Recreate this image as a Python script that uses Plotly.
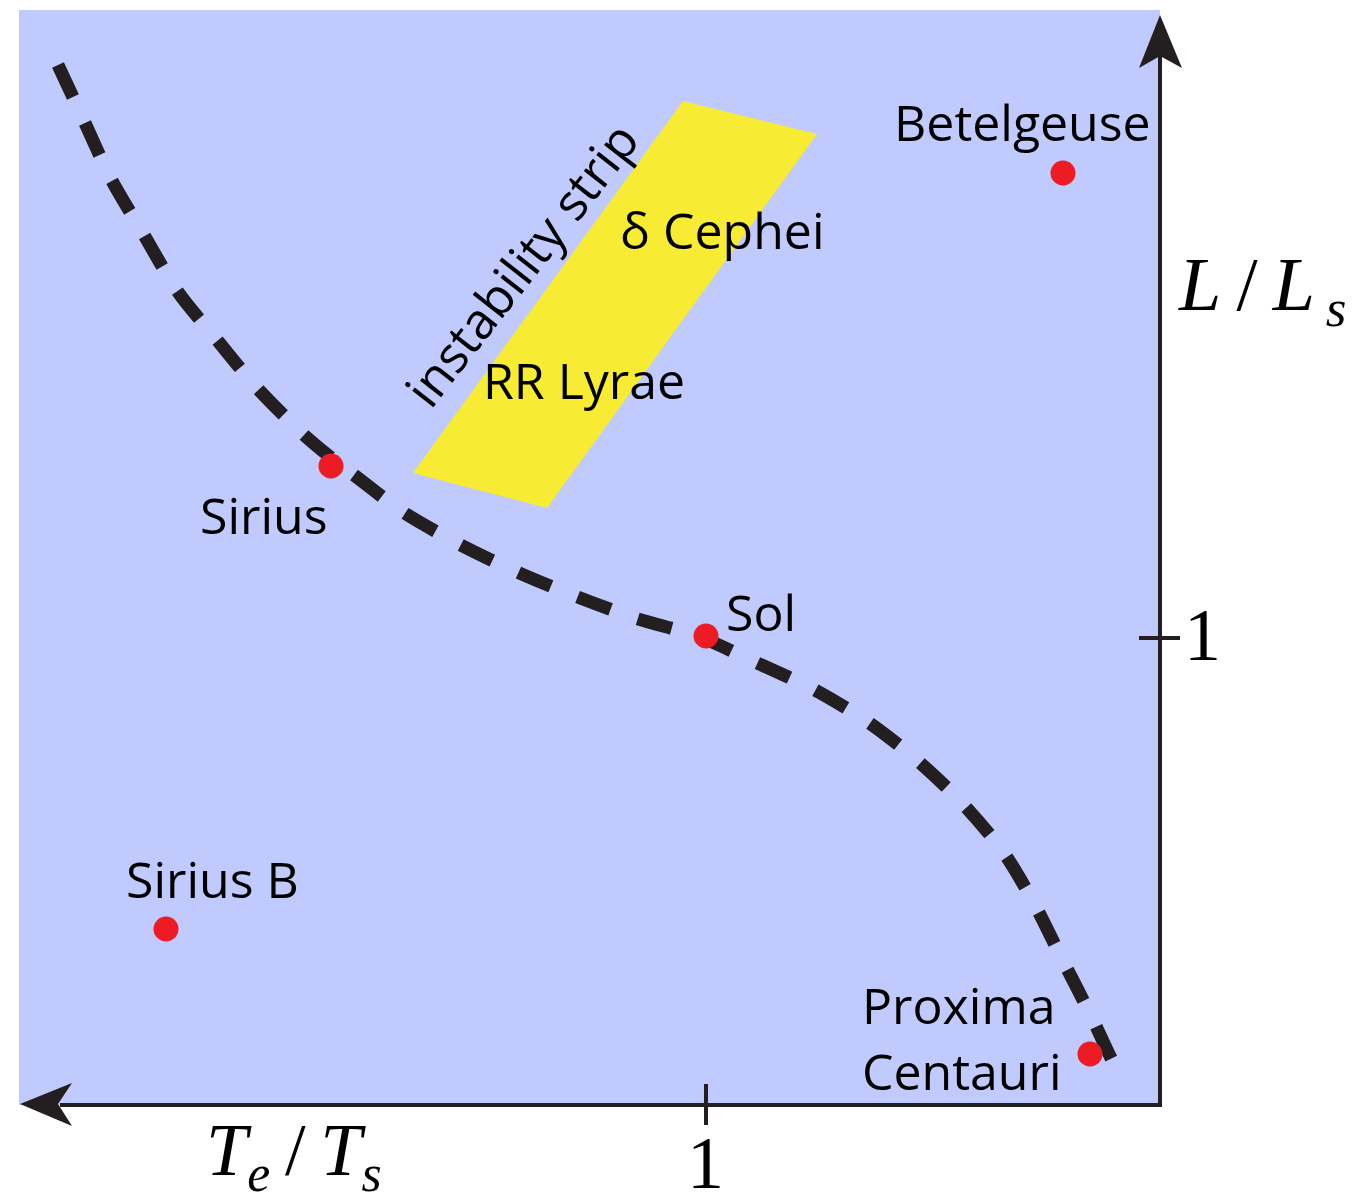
import plotly.graph_objects as go

# ---- data (diagram coordinates: x to the right, y downward) ----
star_names = ["Betelgeuse", "Sirius", "Sol", "Sirius B", "Proxima<br>Centauri"]
star_x = [1063, 331, 706, 166, 1090]
star_y = [173, 466, 636, 929, 1054]

# main sequence, drawn as a dashed curve
ms_x = [58, 85, 111, 144, 178, 217, 258, 303, 329, 354, 403, 459, 517, 575,
        635, 700, 755, 813, 868, 918, 964, 1004, 1035, 1060, 1078, 1094, 1109, 1124]
ms_y = [65, 123, 179, 235, 292, 340, 389, 434, 456, 475, 512, 544, 572, 596,
        618, 637, 662, 689, 722, 761, 805, 853, 905, 955, 990, 1022, 1054, 1084]

# instability strip (parallelogram corners)
strip_x = [683, 817, 547, 413]
strip_y = [101, 134, 508, 473]

# variable-star classes inside the strip
class_names = ["δ Cephei", "RR Lyrae"]
class_x = [722, 584]
class_y = [230, 380]

# axis ticks (the solar reference value)
tick_labels = ["1", "1"]

# ---- styles ----
INK = "#231F20"
BG = "#C1CAFD"
STRIP = "#F7EC33"
DOT = "#ED1C24"
SANS = "Open Sans"
SERIF = "Liberation Serif"
THIN = "\u2009"

fig = go.Figure()

# instability strip
fig.add_trace(go.Scatter(
    x=strip_x + strip_x[:1], y=strip_y + strip_y[:1],
    mode="lines", fill="toself", fillcolor=STRIP,
    line=dict(width=0, color=STRIP), hoverinfo="skip"))

# main sequence
fig.add_trace(go.Scatter(
    x=ms_x, y=ms_y, mode="lines",
    line=dict(color=INK, width=13, dash="35px,29px", shape="spline", smoothing=0.8),
    hoverinfo="skip"))

# stars
fig.add_trace(go.Scatter(
    x=star_x, y=star_y, mode="markers",
    marker=dict(color=DOT, size=25, line=dict(width=0)),
    text=star_names, hoverinfo="text"))

# axes: horizontal (temperature, increasing to the left) and vertical (luminosity)
fig.add_trace(go.Scatter(x=[60, 1162], y=[1105, 1105], mode="lines",
                         line=dict(color=INK, width=4), hoverinfo="skip"))
fig.add_trace(go.Scatter(x=[1160, 1160], y=[1107, 55], mode="lines",
                         line=dict(color=INK, width=4), hoverinfo="skip"))
# arrowheads
fig.add_trace(go.Scatter(x=[20, 72, 58, 72, 20], y=[1104, 1083, 1104, 1126, 1104],
                         mode="lines", fill="toself", fillcolor=INK,
                         line=dict(width=0, color=INK), hoverinfo="skip"))
fig.add_trace(go.Scatter(x=[1160, 1182, 1160, 1139, 1160], y=[15, 68, 56, 68, 15],
                         mode="lines", fill="toself", fillcolor=INK,
                         line=dict(width=0, color=INK), hoverinfo="skip"))
# tick marks at the solar value
fig.add_trace(go.Scatter(x=[706, 706], y=[1084, 1125], mode="lines",
                         line=dict(color=INK, width=4), hoverinfo="skip"))
fig.add_trace(go.Scatter(x=[1139, 1180], y=[638, 638], mode="lines",
                         line=dict(color=INK, width=4), hoverinfo="skip"))

annotations = []

def label(text, x, y, size=50, family=SANS, xanchor="center", angle=0, color="#000000"):
    annotations.append(dict(
        text=text, x=x, y=y, xref="x", yref="y", showarrow=False,
        xanchor=xanchor, yanchor="middle", textangle=angle,
        font=dict(family=family, size=size, color=color)))

# star names
label(star_names[0], 1022, 122)
label(star_names[1], 264, 515)
label(star_names[2], 761, 612)
label(star_names[3], 212, 879)
label("Proxima", 860, 1005, xanchor="left")
label("Centauri", 860, 1071, xanchor="left")

# strip labels
for name, cx, cy in zip(class_names, class_x, class_y):
    label(name, cx, cy)
label("instability strip", 521, 264, angle=-52)

# axis titles and tick values
label(f"<i>L</i>{THIN}/{THIN}<i>L</i><sub>{THIN}<i>s</i></sub>", 1262, 290, size=76, family=SERIF)
label(f"<i>T</i><sub><i>e</i></sub>{THIN}/{THIN}<i>T</i><sub><i>s</i></sub>",
      294, 1155, size=74, family=SERIF)
label(tick_labels[0], 705, 1163, size=74, family=SERIF)
label(tick_labels[1], 1202, 635, size=74, family=SERIF)

fig.update_layout(
    width=1361, height=1203,
    margin=dict(l=0, r=0, t=0, b=0),
    paper_bgcolor="white", plot_bgcolor="white",
    showlegend=False,
    xaxis=dict(range=[0, 1361], visible=False, fixedrange=True),
    yaxis=dict(range=[1203, 0], visible=False, fixedrange=True),
    shapes=[dict(type="rect", xref="x", yref="y", x0=19, x1=1160, y0=10, y1=1105,
                 fillcolor=BG, line=dict(width=0), layer="below")],
    annotations=annotations,
)

fig.write_html("out.html")
